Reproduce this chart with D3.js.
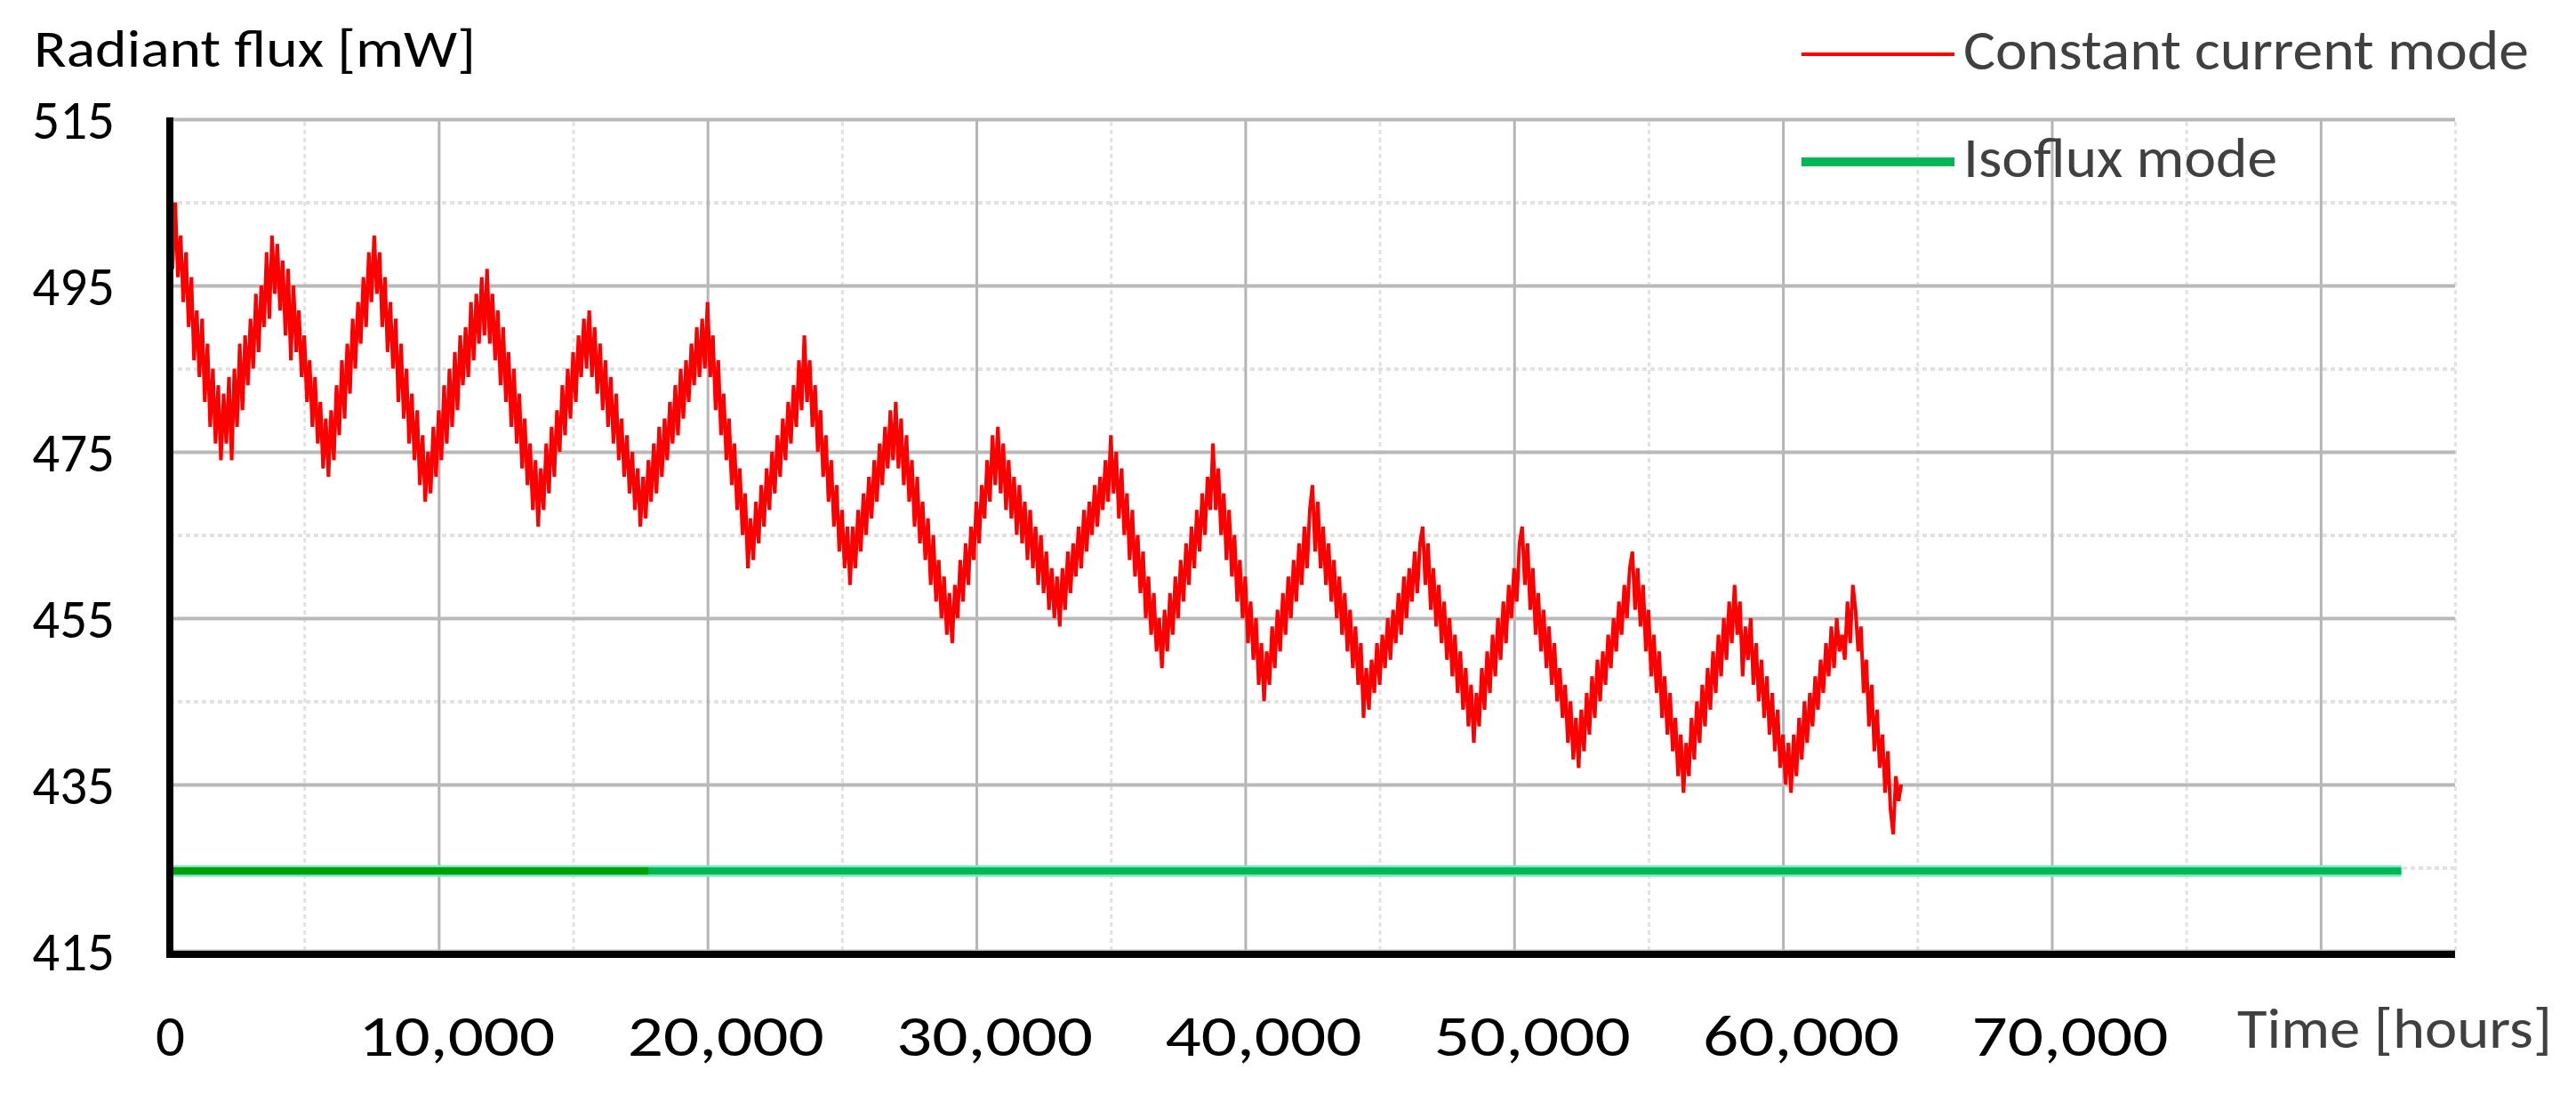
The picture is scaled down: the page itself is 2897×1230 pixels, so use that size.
<!DOCTYPE html>
<html>
<head>
<meta charset="utf-8">
<script src="https://cdn.jsdelivr.net/npm/d3@7"></script>
<style>
  body { margin: 0; background: #fff; }
  #chart text { font-family: Carlito, Lato, "Liberation Sans", sans-serif; }
</style>
</head>
<body>
<div id="chart"></div>
<script>
// axis values
var yTicks = [415, 435, 455, 475, 495, 515],
    yMinor = [425, 445, 465, 485, 505],
    xTicks = [0, 10000, 20000, 30000, 40000, 50000, 60000, 70000],
    xGrid = [10000, 20000, 30000, 40000, 50000, 60000, 70000, 80000],
    xMinor = [5000, 15000, 25000, 35000, 45000, 55000, 65000, 75000, 85000];

var seriesNames = ['Constant current mode', 'Isoflux mode'];

// isoflux mode: flat line
var isoHours = [0, 83000],
    isoFlux = [424.6, 424.6],
    isoDarkHours = [0, 17800];

// constant current mode, sampled every 100 hours from 0
var ccStep = 100;
var ccFlux = [
  502,497,505,496,501,493,499,490,496,486,492,484,491,481,488,478,485,476,483,474,
  482,476,484,474,485,478,488,480,489,483,491,485,494,487,495,490,499,491,501,494,
  500,492,498,489,497,486,495,487,492,484,489,481,486,478,484,476,481,473,479,472,
  480,474,483,477,486,479,488,482,491,485,493,488,496,490,499,493,501,
  494,499,490,496,487,493,485,491,481,488,479,485,476,482,474,480,471,477,469,475,
  470,478,472,480,474,483,476,485,478,487,480,489,483,490,484,493,486,494,488,496,489,497,
  488,494,486,492,483,490,481,487,478,485,476,482,473,479,471,476,468,474,466,
  473,468,476,470,478,472,480,475,483,477,485,479,487,481,489,484,491,485,492,
  484,490,482,488,480,486,478,484,476,482,474,479,472,477,470,475,468,473,466,472,
  467,474,469,476,470,478,472,479,474,481,476,483,477,485,479,486,481,488,483,490,484,491,485,493,
  484,489,480,486,477,482,474,479,471,476,468,473,465,470,461,
  467,462,469,464,471,466,473,468,475,470,477,472,479,474,481,476,483,478,486,480,489,
  481,486,478,483,475,480,472,477,469,474,466,471,463,468,461,466,459,
  466,461,468,463,470,465,472,467,474,469,476,471,478,473,480,474,481,
  473,479,471,477,469,474,466,472,464,469,462,467,459,465,457,462,455,460,453,458,452,
  459,455,462,457,464,459,466,462,469,464,471,467,474,469,477,471,
  478,470,476,468,474,467,472,465,471,464,469,462,468,461,466,459,465,458,463,456,461,455,460,
  454,461,456,463,458,464,460,466,461,468,463,469,465,471,466,472,468,474,469,477,
  470,475,467,473,465,470,462,468,460,465,458,463,455,460,453,458,451,455,
  449,456,451,458,453,460,455,462,457,464,459,466,461,468,463,470,465,472,468,
  476,468,473,465,470,462,468,460,465,457,462,455,460,452,457,450,455,447,452,445,
  451,447,454,449,456,451,458,453,460,455,462,457,464,459,466,461,468,471,
  463,469,461,466,459,464,457,462,455,460,453,458,451,456,449,454,447,452,443,449,
  444,450,446,452,447,453,449,455,450,456,452,458,453,460,455,461,457,463,458,464,466,
  459,464,456,461,454,459,452,457,450,455,448,453,446,451,444,449,442,447,440,
  446,442,449,444,451,446,453,448,455,450,457,452,459,455,461,457,464,466,
  459,464,456,461,453,458,451,456,449,454,447,452,445,449,443,447,440,445,438,443,
  437,444,439,446,441,448,443,450,445,451,447,453,449,455,451,457,453,459,455,461,463,
  456,461,454,459,451,456,448,453,446,451,443,448,441,446,439,443,436,441,434,
  440,436,443,438,445,440,447,442,449,444,451,446,453,448,455,450,457,452,459,
  453,457,448,454,450,455,447,452,445,450,443,448,441,446,439,444,437,441,435,440,
  434,441,436,443,438,445,440,446,442,448,444,450,446,452,448,454,449,455,451,453,450,457,452,459,
  456,451,454,446,450,442,447,439,444,437,441,434,439,432,429,
  436,433,435
];

var width = 2897, height = 1230,
    plot = { left: 191, right: 2761, top: 134, bottom: 1069 };

var svg = d3.select('#chart').append('svg')
  .attr('width', width)
  .attr('height', height)
  .style('display', 'block');

var x = d3.scaleLinear().domain([0, 85000]).range([plot.left, plot.right]);
var y = d3.scaleLinear().domain([415, 515]).range([plot.bottom, plot.top]);

var plotH = plot.bottom - plot.top,
    plotW = plot.right - plot.left;

function gridX(values, color, w, dash) {
  svg.append('g')
    .attr('transform', 'translate(0,' + plot.bottom + ')')
    .call(d3.axisBottom(x).tickValues(values).tickSize(-plotH).tickFormat(''))
    .call(function(g) { g.select('.domain').remove(); })
    .selectAll('line')
      .attr('stroke', color)
      .attr('stroke-width', w)
      .attr('stroke-dasharray', dash);
}
function gridY(values, color, w, dash) {
  svg.append('g')
    .attr('transform', 'translate(' + plot.left + ',0)')
    .call(d3.axisLeft(y).tickValues(values).tickSize(-plotW).tickFormat(''))
    .call(function(g) { g.select('.domain').remove(); })
    .selectAll('line')
      .attr('stroke', color)
      .attr('stroke-width', w)
      .attr('stroke-dasharray', dash);
}

gridX(xMinor, '#e2e2e2', 3, '5,4');
gridY(yMinor, '#e2e2e2', 4, '5,4');
gridX(xGrid, '#b4b4b4', 3, null);
gridY(yTicks, '#b9b9b9', 4, null);

// isoflux line
var isoData = isoHours.map(function(h, i) { return [h, isoFlux[i]]; });
var isoDark = isoDarkHours.map(function(h) { return [h, isoFlux[0]]; });
var line = d3.line()
  .x(function(d) { return x(d[0]); })
  .y(function(d) { return y(d[1]); });

svg.append('path').datum(isoData)
  .attr('d', line).attr('fill', 'none')
  .attr('stroke', '#7fe8c6').attr('stroke-width', 13);
svg.append('path').datum(isoData)
  .attr('d', line).attr('fill', 'none')
  .attr('stroke', '#00b853').attr('stroke-width', 8);
svg.append('path').datum(isoDark)
  .attr('d', line).attr('fill', 'none')
  .attr('stroke', '#00a000').attr('stroke-width', 8);

// constant current line
var ccLine = d3.line()
  .x(function(d, i) { return x(i * ccStep); })
  .y(function(d) { return y(d); });

svg.append('path').datum(ccFlux)
  .attr('d', ccLine)
  .attr('fill', 'none')
  .attr('stroke', '#ff0000')
  .attr('stroke-width', 4)
  .attr('stroke-linejoin', 'miter');

// axes lines
svg.append('line')
  .attr('x1', x(0)).attr('x2', x(0))
  .attr('y1', plot.top - 2).attr('y2', plot.bottom + 8)
  .attr('stroke', '#000').attr('stroke-width', 8);
svg.append('line')
  .attr('x1', x(0) - 4).attr('x2', plot.right)
  .attr('y1', plot.bottom + 4).attr('y2', plot.bottom + 4)
  .attr('stroke', '#000').attr('stroke-width', 8);

// y tick labels
svg.append('g')
  .attr('transform', 'translate(' + plot.left + ',0)')
  .call(d3.axisLeft(y).tickValues(yTicks).tickSize(0).tickPadding(62))
  .call(function(g) { g.select('.domain').remove(); })
  .selectAll('text')
    .attr('dy', '0.36em')
    .attr('fill', '#000')
    .style('font-size', '61px');

// x tick labels
svg.append('g')
  .attr('transform', 'translate(0,' + plot.bottom + ')')
  .call(d3.axisBottom(x).tickValues(xTicks).tickSize(0).tickFormat(d3.format(',')))
  .call(function(g) { g.select('.domain').remove(); })
  .selectAll('text')
    .attr('y', 118)
    .attr('dy', 0)
    .attr('dx', function(d) { return d ? 20 : 0; })
    .attr('fill', '#000')
    .style('font-size', '65px')
    .each(function(d) {
      if (d) d3.select(this).attr('textLength', 221).attr('lengthAdjust', 'spacingAndGlyphs');
    });

// axis titles
svg.append('text')
  .attr('x', 38).attr('y', 75)
  .attr('fill', '#000')
  .attr('textLength', 497)
  .attr('lengthAdjust', 'spacingAndGlyphs')
  .style('font-size', '60px')
  .text('Radiant flux [mW]');

svg.append('text')
  .attr('x', 2516).attr('y', 1178)
  .attr('fill', '#404040')
  .attr('textLength', 354)
  .attr('lengthAdjust', 'spacingAndGlyphs')
  .style('font-size', '64px')
  .text('Time [hours]');

// legend
var legend = svg.append('g');
var legendRows = [
  { name: seriesNames[0], y: 61, color: '#ff0000', w: 4, len: 636 },
  { name: seriesNames[1], y: 182, color: '#00b853', w: 10, len: 353 }
];
legend.selectAll('line').data(legendRows).enter().append('line')
  .attr('x1', 2026).attr('x2', 2198)
  .attr('y1', function(d) { return d.y; })
  .attr('y2', function(d) { return d.y; })
  .attr('stroke', function(d) { return d.color; })
  .attr('stroke-width', function(d) { return d.w; });
legend.selectAll('text').data(legendRows).enter().append('text')
  .attr('x', 2208)
  .attr('y', function(d) { return d.y + 17; })
  .attr('fill', '#404040')
  .attr('textLength', function(d) { return d.len; })
  .attr('lengthAdjust', 'spacingAndGlyphs')
  .style('font-size', '63px')
  .text(function(d) { return d.name; });
</script>
</body>
</html>
